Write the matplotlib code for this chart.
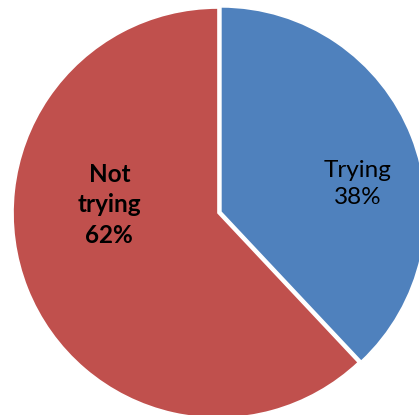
import matplotlib
matplotlib.use('Agg')
import matplotlib.pyplot as plt

# Data
categories = ['Trying', 'Not\ntrying']
shares = [38, 62]
colors = ['#4F81BD', '#C0504D']

fig = plt.figure(figsize=(4.19, 4.15), dpi=100)
ax = fig.add_axes([0, 0, 1, 1])

r_px = 205.0
cx, cy = 218.0, 213.0
ax.pie(shares, colors=colors, startangle=90, counterclock=False,
       explode=[0.015, 0], radius=1,
       wedgeprops=dict(edgecolor='white', linewidth=1.2))

ax.set_xlim(-cx / r_px, (419 - cx) / r_px)
ax.set_ylim(-(415 - cy) / r_px, cy / r_px)
ax.set_aspect('equal')
ax.axis('off')

# Labels
ax.text(0.68, 0.14, f"{categories[0]}\n{shares[0]}%", ha='center', va='center',
        fontsize=17.5, family=['Lato', 'DejaVu Sans'], color='black', linespacing=1.35)
ax.text(-0.53, 0.04, f"{categories[1]}\n{shares[1]}%", ha='center', va='center',
        fontsize=17.5, fontweight='bold', family=['Lato', 'DejaVu Sans'], color='black',
        linespacing=1.4)

plt.savefig("out.png", dpi=100)
